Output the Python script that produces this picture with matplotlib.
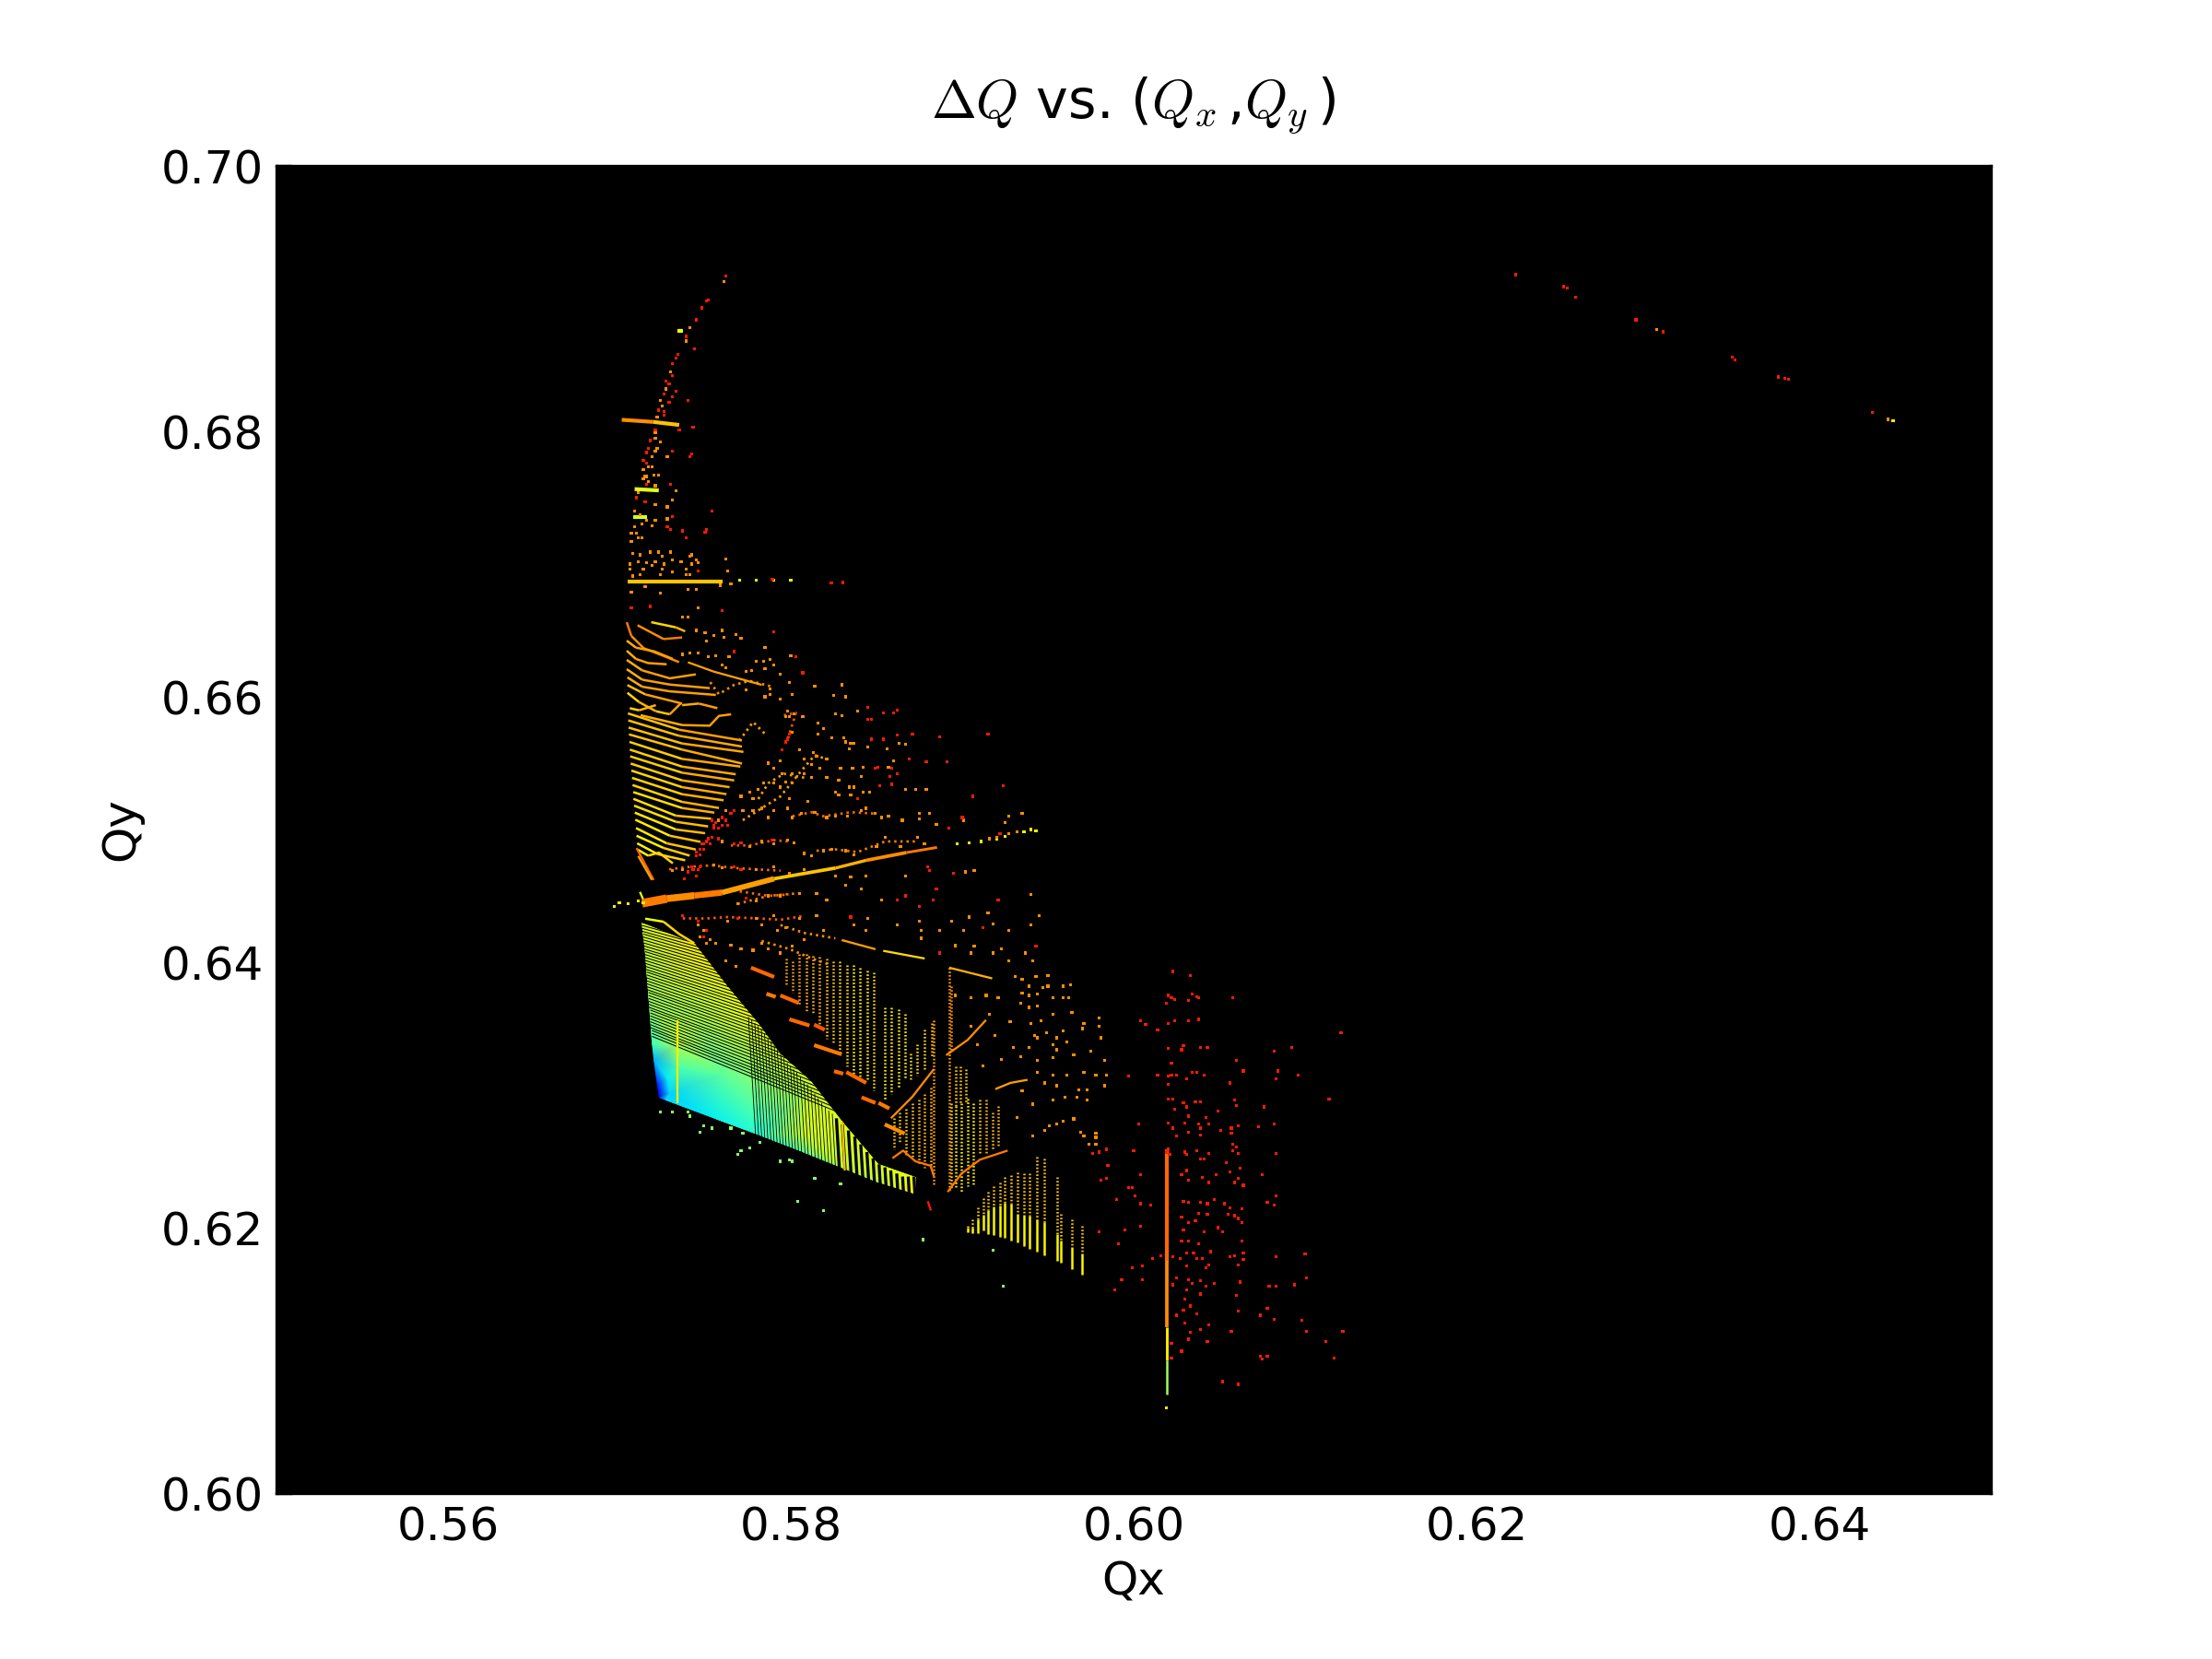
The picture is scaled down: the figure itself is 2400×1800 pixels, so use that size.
import numpy as np
import matplotlib
matplotlib.use("Agg")
import matplotlib.pyplot as plt
from matplotlib.collections import LineCollection
from matplotlib.patches import Polygon

plt.rcParams["mathtext.fontset"] = "cm"
plt.rcParams["lines.scale_dashes"] = False

# colour field of the dense lower fan
FIELD_X = [.5713, .5744, .5715, .5763, .5717, .5747, .5719, .5734, .5781, .5720, .5722, .5723, .5727, .5756,
           .5760, .5794, .5812, .5783, .5805, .5808, .5830, .5830, .5851, .5851, .5873, .5873,
           .5728, .5729, .5735]
FIELD_Y = [.6430, .6414, .6407, .6382, .6373, .6361, .6338, .6338, .6354, .6326, .6306, .6298, .6296, .6282,
           .6315, .6331, .6310, .6269, .6258, .6271, .6280, .6245, .6248, .6234, .6238, .6225,
           .6312, .6301, .6320]
FIELD_C = [.62, .66, .58, .64, .54, .56, .42, .56, .64, .30, .12, .08, .34, .36,
           .46, .60, .60, .40, .46, .60, .62, .58, .62, .58, .64, .66,
           .36, .33, .44]
FIELD_EDGE = [0, 1, 3, 8, 15, 16, 20, 22, 24, 25, 23, 21, 18, 17, 13, 12, 11, 10, 9, 6, 4, 2]

# black gaps between the fan rows
ROW_X0 = [.5713, .5713, .5713, .5713, .5714, .5714, .5714, .5714, .5714, .5714, .5715, .5715, .5715, .5715,
          .5715, .5715, .5715, .5716, .5716, .5716, .5716, .5716, .5716, .5716, .5717, .5717, .5717, .5717,
          .5717, .5717, .5718, .5718, .5718, .5718, .5718, .5718, .5718, .5719, .5719, .5719]
ROW_Y0 = [.64300, .64278, .64256, .64234, .64212, .64190, .64168, .64146, .64124, .64102, .64080, .64058,
          .64036, .64014, .63992, .63970, .63948, .63926, .63904, .63882, .63860, .63838, .63816, .63794,
          .63772, .63750, .63728, .63706, .63684, .63662, .63640, .63618, .63596, .63574, .63552, .63530,
          .63508, .63486, .63464, .63442]
ROW_X1 = [.5750, .5752, .5755, .5757, .5760, .5762, .5764, .5767, .5769, .5772, .5774, .5776, .5779, .5781,
          .5784, .5786, .5788, .5791, .5793, .5796, .5798, .5800, .5803, .5805, .5808, .5810, .5812, .5815,
          .5817, .5820, .5822, .5824, .5827, .5829, .5832, .5834, .5836, .5839, .5841, .5844]
ROW_Y1 = [.64170, .64140, .64106, .64076, .64041, .64010, .63979, .63944, .63912, .63877, .63845, .63813,
          .63777, .63744, .63707, .63674, .63642, .63604, .63571, .63533, .63499, .63465, .63427, .63393,
          .63353, .63318, .63284, .63244, .63209, .63169, .63133, .63097, .63057, .63021, .62979, .62942,
          .62906, .62864, .62827, .62784]

# black gaps between the fan columns
COL_X0 = [.58727, .58693, .58659, .58625, .58591, .58557, .58523, .58489, .58455, .58421, .58387, .58352,
          .58318, .58284, .58261, .58241, .58222, .58202, .58182, .58163, .58143, .58123, .58103, .58084,
          .58064, .58046, .58028, .58010, .57992, .57974, .57956, .57939, .57921, .57903, .57885, .57867,
          .57849, .57831, .57813, .57795]
COL_Y0 = [.62195, .62213, .62232, .62248, .62267, .62285, .62304, .62320, .62338, .62357, .62375, .62394,
          .62410, .62429, .62442, .62452, .62463, .62473, .62484, .62493, .62505, .62514, .62526, .62535,
          .62547, .62556, .62565, .62574, .62584, .62593, .62602, .62611, .62621, .62632, .62642, .62651,
          .62660, .62669, .62679, .62688]
COL_X1 = [.58718, .58685, .58652, .58618, .58583, .58549, .58515, .58480, .58444, .58408, .58373, .58336,
          .58301, .58266, .58242, .58221, .58201, .58180, .58159, .58139, .58118, .58097, .58076, .58056,
          .58035, .58016, .57998, .57979, .57960, .57941, .57921, .57903, .57885, .57866, .57847, .57828,
          .57809, .57790, .57772, .57753]
COL_Y1 = [.62385, .62385, .62385, .62408, .62431, .62454, .62477, .62523, .62570, .62628, .62686, .62732,
          .62778, .62824, .62859, .62882, .62905, .62940, .62975, .63010, .63044, .63079, .63102, .63137,
          .63172, .63195, .63218, .63241, .63276, .63311, .63345, .63380, .63403, .63426, .63461, .63496,
          .63519, .63542, .63565, .63588]

# right hand columns: dotted from top to mid, solid from mid to bottom
RIGHT_X = [.59032, .59059, .59094, .59121, .59152, .59184, .59220, .59250, .59283, .59323, .59360, .59391,
           .59435, .59477, .59552, .59573, .59638, .59699]
RIGHT_TOP = [.62014, .62060, .62153, .62222, .62269, .62315, .62338, .62385, .62396, .62419, .62407, .62407,
             .62534, .62523, .62384, .62106, .62060, .62013]
RIGHT_MID = [.62000, .62000, .62060, .62100, .62130, .62160, .62170, .62190, .62180, .62106, .62100, .62090,
             .62060, .62040, .61950, .61900, .61851, .61805]
RIGHT_BOTTOM = [.61968, .61960, .61956, .61979, .61950, .61945, .61933, .61922, .61903, .61886, .61863,
                .61840, .61817, .61793, .61747, .61736, .61689, .61648]

# dotted columns of the middle grid
DOT_X = [.57974, .58010, .58050, .58089, .58128, .58168, .58207, .58247, .58286, .58326, .58365, .58404, .58444,
         .58483, .58548, .58584, .58628, .58664, .58700, .58736, .58781, .58825, .58602, .58637, .58673, .58709,
         .58745, .58781, .58816, .58933, .58960, .58987, .59023, .58933, .58960, .58996, .59032, .59067, .59103,
         .59139, .59175, .59211, .58835, .58924]
DOT_TOP = [.64028, .64005, .64063, .64063, .64051, .64040, .64028, .64005, .64005, .63982, .63982, .63959, .63936,
           .63924, .63658, .63658, .63646, .63612, .63311, .63380, .63496, .63542, .62824, .62871, .62894, .62940,
           .62963, .63010, .63056, .63820, .63218, .63218, .63195, .62940, .62917, .62940, .62975, .62940, .62963,
           .62963, .62871, .62917, .63565, .63959]
DOT_BOTTOM = [.63820, .63774, .63681, .63635, .63612, .63519, .63426, .63380, .63311, .63218, .63149, .63125, .63102,
              .63033, .62963, .63010, .63056, .63125, .63102, .63149, .63195, .63287, .62593, .62639, .62547, .62523,
              .62477, .62454, .62454, .63334, .62917, .62940, .62940, .62292, .62292, .62269, .62315, .62315, .62547,
              .62547, .62593, .62616, .62315, .62269]
DOT_C = [.74, .74, .74, .72, .72, .72, .70, .70, .68, .68, .66, .66, .66,
         .68, .66, .66, .66, .66, .68, .68, .68, .70, .70, .70, .70, .70,
         .72, .72, .72, .76, .70, .70, .70, .68, .66, .66, .66, .66, .70,
         .72, .72, .72, .74, .74]

# rows of the upper fan, one list of vertices per row
UPPER_X = [[.57186, .57330, .57384], [.57106, .57258, .57366], [.57043, .57070, .57142, .57258, .57348],
           [.57043, .57097, .57204, .57312], [.57043, .57097, .57168, .57276], [.57043, .57133, .57294, .57446],
           [.57043, .57133, .57294, .57527], [.57047, .57133, .57294, .57563], [.57047, .57151, .57294, .57366],
           [.57366, .57464, .57572], [.57047, .57115, .57213], [.57061, .57115, .57213], [.57213, .57294, .57357],
           [.57124, .57366, .57527, .57581, .57652], [.57050, .57348, .57715], [.57052, .57348, .57715],
           [.57054, .57366, .57724], [.57056, .57366, .57715], [.57059, .57366, .57706], [.57061, .57366, .57679],
           [.57063, .57366, .57670], [.57066, .57366, .57643], [.57070, .57366, .57625], [.57074, .57366, .57608],
           [.57077, .57366, .57581], [.57081, .57366, .57554], [.57082, .57330, .57536], [.57086, .57330, .57518],
           [.57090, .57330, .57500], [.57093, .57294, .57473], [.57097, .57276, .57446], [.57100, .57258, .57410],
           [.57104, .57222, .57384], [.57106, .57168, .57231, .57312], [.57151, .57258, .57348, .57437]]
UPPER_Y = [[.66562, .66523, .66493], [.66539, .66435, .66447], [.66562, .66458, .66366, .66308, .66261],
           [.66423, .66370, .66342, .66285], [.66347, .66285, .66254, .66245], [.66278, .66199, .66139, .66169],
           [.66208, .66129, .66092, .66065], [.66146, .66076, .66041, .66014], [.66088, .66018, .65972, .65949],
           [.65937, .65949, .65914], [.66030, .65960, .65891], [.65914, .65898, .65937], [.65891, .65868, .65949],
           [.65861, .65787, .65782, .65856, .65868], [.65875, .65752, .65671], [.65822, .65706, .65625],
           [.65768, .65648, .65585], [.65717, .65602, .65497], [.65660, .65532, .65474], [.65602, .65474, .65416],
           [.65551, .65428, .65370], [.65497, .65370, .65319], [.65444, .65319, .65266], [.65389, .65266, .65220],
           [.65335, .65208, .65162], [.65282, .65162, .65127], [.65231, .65104, .65081], [.65180, .65058, .65023],
           [.65127, .65000, .64972], [.65074, .64953, .64907], [.65011, .64896, .64849], [.64953, .64861, .64803],
           [.64896, .64815, .64768], [.64849, .64803, .64826, .64745], [.64328, .64305, .64213, .64143]]
UPPER_C0 = [.68, .76, .78, .72, .72, .72, .72, .72, .71, .73, .68, .68, .70, .72, .70, .70, .70, .70, .69, .69,
            .69, .69, .68, .68, .68, .67, .67, .67, .66, .66, .66, .65, .65, .64, .64]
UPPER_C1 = [.72, .78, .76, .74, .74, .74, .74, .74, .74, .74, .72, .72, .74, .74, .74, .73, .73, .73, .73, .73,
            .73, .73, .73, .72, .72, .72, .71, .71, .71, .70, .70, .69, .68, .68, .68]

# the bright streak through (0.58, 0.646)
STREAK_X = [.57133, .57276, .57437, .57599, .57903, .58262, .58441, .58674, .58853]
STREAK_Y = [.64444, .64479, .64502, .64525, .64629, .64710, .64768, .64826, .64865]
STREAK_C = [.78, .76, .78, .74, .70, .72, .76, .78]

# short thick pieces: x0, y0, x1, y1, value
THICK_X0 = [.57768, .57858, .57939, .57992, .58136, .58136, .58252, .58324, .58413, .58512, .58548,
            .57014, .57198, .57340, .57089, .57080, .57050]
THICK_Y0 = [.63959, .63762, .63750, .63570, .63530, .63375, .63179, .63172, .62982, .62940, .62778,
            .68087, .68071, .68757, .67565, .67353, .66868]
THICK_X1 = [.57903, .57912, .58046, .58109, .58198, .58297, .58306, .58440, .58494, .58575, .58664,
            .57198, .57349, .57370, .57230, .57160, .57600]
THICK_Y1 = [.63889, .63739, .63693, .63523, .63491, .63306, .63160, .63091, .62940, .62898, .62709,
            .68071, .68048, .68757, .67555, .67353, .66868]
THICK_C = [.80, .78, .80, .80, .82, .78, .80, .80, .80, .78, .76, .76, .70, .64, .62, .60, .70]

# thin chains across the grid
CHAIN_X = [[.58584, .58709, .58835], [.58915, .58996, .59103, .59265], [.59193, .59282, .59381],
           [.58906, .59032, .59139], [.58593, .58655, .58727, .58816, .58835], [.58799, .58817],
           [.57338, .57338], [.58300, .58315], [.57100, .57200], [.57110, .57190], [.57120, .57150],
           [.58297, .58494], [.58539, .58781], [.58924, .59175], [.5740, .5755, .5769, .5783]]
CHAIN_Y = [[.62824, .62986, .63195], [.62269, .62408, .62512, .62581], [.63044, .63091, .63114],
           [.63299, .63415, .63565], [.62523, .62581, .62500, .62466, .62385], [.62199, .62130],
           [.63565, .62940], [.62800, .62431], [.64860, .64620], [.64800, .64620], [.64530, .64440],
           [.64167, .64098], [.64086, .64028], [.63959, .63878], [.6626, .6619, .6614, .6609]]
CHAIN_C = [.76, .78, .74, .76, .78, .88, .66, .70, .80, .74, .62, .74, .68, .72, .74]

# the vertical line at Qx = 0.6019, by stretches
LINE_X = [.60193, .60193, .60193, .60193]
LINE_TOP = [.62592, .61750, .61250, .61000]
LINE_BOTTOM = [.61750, .61250, .61000, .60740]
LINE_C = [.80, .76, .66, .54]

# dotted chains of points between the two fans
BAND_X = [[.5729, .5742, .5754, .5767, .5780, .5794], [.5749, .5767, .5787, .5799], [.5769, .5787, .5805],
          [.5737, .5751, .5763, .5781, .5794, .5808], [.5765, .5776, .5790, .5799],
          [.5801, .5812, .5819, .5835, .5849], [.5815, .5826, .5839, .5855, .5873], [.5794, .5808, .5826],
          [.5783, .5799, .5812, .5823], [.5772, .5783, .5794, .5806, .5814, .5821], [.5781, .5787, .5796, .5808],
          [.5753, .5758, .5767, .5776, .5788], [.5770, .5778, .5785], [.5796, .5803, .5798]]
BAND_Y = [[.6470, .6472, .6473, .6471, .6470, .6469], [.6450, .6454, .6450, .6451], [.6444, .6450, .6452],
          [.6433, .6433, .6434, .6433, .6432, .6435], [.6488, .6488, .6492, .6491],
          [.6510, .6513, .6510, .6513, .6512], [.6484, .6485, .6483, .6491, .6491], [.6428, .6422, .6418],
          [.6416, .6410, .6403, .6398], [.6507, .6516, .6525, .6544, .6556, .6553], [.6523, .6535, .6542, .6539],
          [.6611, .6602, .6609, .6612, .6608], [.6567, .6581, .6572], [.6586, .6588, .6567]]
BAND_C = [.80, .80, .78, .82, .82, .80, .78, .76, .76, .74, .74, .76, .74, .82]

RED_X = [.5762, .5752, .5751, .5748, .5745, .5739, .5739, .5744, .5734, .5733, .5731, .5731, .5727, .5729, .5733, .5731,
         .5726, .5740, .5729, .5723, .5726, .5726, .5743, .5735, .5721, .5718, .5717, .5716, .5731, .5742, .5741, .5714,
         .5716, .5716, .5730, .5710, .5715, .5754, .5731, .5728, .5730, .5751, .5750, .5737, .5739, .5746, .57892, .58237,
         .58305, .5760, .5718, .5707,
         .5790, .5767, .5803, .5807, .5845, .5854, .5862, .5860, .5845, .5847, .5799, .5798, .5797, .5871, .5862, .5887,
         .5915, .5847, .5854, .5795, .5849, .5851, .5869, .5879, .5891, .5859, .5858, .5862, .5924, .5906, .5859, .5839,
         .5852, .5755, .5760, .5900, .5892, .5922, .5756, .5758, .5755, .5762, .5765, .5767, .5760, .5754, .5755, .5763,
         .5745, .5748, .5751, .5749, .5752, .5754, .5758, .5745, .5747, .5753, .5740, .5743, .5745, .5747, .5738,
         .5751, .5749, .5747, .5754, .5767, .5771, .5789, .5742, .5746, .5767, .5771, .5880, .5895, .5881, .5774, .5862,
         .5867, .5875, .5885, .5883, .5921, .5737, .5746, .5749, .5751, .5769, .5835, .5887, .5912, .5943,
         .6223, .6251, .6253, .6258, .6293, .6309, .6349, .6351, .6351, .6376, .6380, .6382, .6431,
         .6023, .6033, .6020, .6022, .6024, .6037, .6038, .6058, .6034, .6032, .6019, .6004, .6007, .6020, .6024, .6032,
         .6038, .6014, .6121, .6029, .6028, .6020, .6039, .6043, .6092, .6082, .6022, .6060, .6064, .6084, .6096, .6083,
         .6020, .6022, .6025, .6034, .6037, .6041, .6014, .5997, .6031, .6056, .6020, .6114, .6059, .6060, .6076, .6039,
         .6036, .6020, .6023, .6029, .6031, .6024, .6049, .6032, .6003, .6020, .6023, .6030, .6038, .6042, .6044, .6039,
         .6057, .6061, .6073, .6082, .6051, .6057, .6039, .6032, .6025, .6058, .6060, .6061, .6083, .6058, .6020, .6019,
         .6021, .6030, .6031, .6037, .6039, .6041, .6044, .6054, .6000, .5984, .5976, .5980, .5985, .6062, .6056, .6075,
         .6048, .6031, .6028, .6032, .6040, .6044, .6061, .6059, .6064, .6004, .5981, .5984, .5997, .5999, .6001, .6083,
         .6078, .6082, .6004, .6010, .5990, .6029, .6032, .6039, .6043, .6047, .6053, .6056, .6063, .6055, .6059, .6061,
         .6063, .6028, .6038, .6043, .6032, .6036, .6049, .6052, .6004, .5995, .5980, .5991, .6063, .6029, .6041, .6028,
         .6032, .6038, .6011, .6016, .6056, .6059, .6064, .6083, .6100, .6061, .6064, .6045, .6040, .6035, .6023, .6027,
         .6031, .6037, .6044, .6042, .6031, .6005, .5999, .6101, .6079, .6083, .6094, .6062, .6047, .6042, .6039, .6034,
         .6032, .6025, .6023, .5993, .6005, .5989, .6039, .6031, .6060, .6030, .6061, .6078, .6074, .6082, .6098, .6033,
         .6029, .6025, .6037, .6030, .6044, .6101, .6122, .6057, .6039, .6033, .6032, .6043, .6112, .6022, .6028, .6022,
         .6117, .6074, .6075, .6078, .6052, .6061]
RED_Y = [.6917, .6899, .6898, .6893, .6884, .6872, .6871, .6862, .6858, .6855, .6851, .6842, .6838, .6836, .6830, .6826,
         .6828, .6823, .6822, .6816, .6815, .6812, .6803, .6801, .6801, .6793, .6787, .6784, .6785, .6783, .6781, .6778,
         .6776, .6760, .6760, .6750, .6747, .6740, .6736, .6728, .6726, .6726, .6724, .6725, .6720, .6695, .66884, .66857,
         .66861, .6665, .6668, .6667,
         .6649, .6634, .6630, .6618, .6592, .6588, .6590, .6588, .6583, .6583, .6572, .6568, .6566, .6572, .6571, .6570,
         .6572, .6568, .6568, .6560, .6546, .6547, .6553, .6551, .6551, .6546, .6540, .6542, .6533, .6525, .6534, .6523,
         .6533, .6502, .6503, .6509, .6501, .6497, .6505, .6501, .6501, .6507, .6512, .6514, .6509, .6507, .6503, .6503,
         .6483, .6489, .6491, .6485, .6493, .6494, .6493, .6480, .6481, .6489, .6468, .6470, .6465, .6472, .6463,
         .6491, .6489, .6485, .6494, .6489, .6490, .6492, .6472, .6470, .6472, .6470, .6472, .6467, .6469, .6448, .6447,
         .6450, .6442, .6455, .6447, .6447, .6435, .6431, .6419, .6424, .6433, .6434, .6407, .6426, .6412,
         .6918, .6909, .6908, .6901, .6884, .6875, .6856, .6854, .6854, .6841, .6840, .6839, .6814,
         .6393, .6390, .6375, .6373, .6372, .6374, .6373, .6373, .6376, .6371, .6369, .6356, .6353, .6354, .6356, .6356,
         .6357, .6349, .6347, .6337, .6334, .6335, .6336, .6336, .6336, .6333, .6324, .6326, .6318, .6318, .6315, .6312,
         .6314, .6315, .6315, .6317, .6317, .6315, .6315, .6314, .6312, .6309, .6308, .6297, .6296, .6292, .6291, .6295,
         .6295, .6297, .6297, .6294, .6291, .6289, .6288, .6284, .6278, .6279, .6275, .6279, .6278, .6283, .6278, .6275,
         .6275, .6277, .6276, .6278, .6273, .6271, .6270, .6272, .6269, .6263, .6261, .6256, .6256, .6258, .6259, .6257,
         .6255, .6257, .6255, .6258, .6252, .6252, .6256, .6249, .6258, .6259, .6256, .6257, .6247, .6245, .6242, .6240,
         .6240, .6243, .6240, .6236, .6238, .6234, .6237, .6234, .6232, .6240, .6236, .6237, .6230, .6230, .6224, .6224,
         .6219, .6217, .6218, .6217, .6221, .6220, .6219, .6219, .6218, .6221, .6218, .6215, .6214, .6210, .6209, .6207,
         .6204, .6208, .6211, .6210, .6204, .6205, .6200, .6197, .6201, .6198, .6197, .6188, .6190, .6198, .6197, .6190,
         .6190, .6188, .6177, .6179, .6178, .6179, .6181, .6178, .6180, .6172, .6176, .6182, .6177, .6181, .6178, .6177,
         .6181, .6177, .6172, .6170, .6171, .6171, .6170, .6162, .6156, .6156, .6157, .6159, .6158, .6156, .6160, .6158,
         .6161, .6162, .6157, .6161, .6161, .6153, .6150, .6153, .6149, .6146, .6137, .6139, .6134, .6131, .6130, .6141,
         .6138, .6134, .6135, .6128, .6127, .6122, .6122, .6122, .6123, .6121, .6116, .6114, .6114, .6113, .6107, .6102,
         .6102, .6103, .6101, .6103, .6084, .6082]

ORANGE_X = [.5761, .5741, .5739, .5730, .5727, .5724, .5725, .5722, .5721, .5721, .5724, .5722, .5721, .5728, .5719, .5717,
            .5719, .5714, .5720, .5723, .5715, .5716, .5714, .5717, .5721, .5733, .5711, .5731, .5721, .5728, .5709, .5712,
            .5728, .5721, .5716, .5709, .5713, .5719, .5707, .5710, .5711, .5713, .5707,
            .5708, .5712, .5718, .5723, .5730, .5742, .5762, .5725, .5741, .5706, .5711, .5716, .5721, .5731, .5736, .5745,
            .5746, .5726, .5742, .5706, .5714, .5719, .5725, .5739, .5763, .5724, .5731, .5739, .5741, .5708, .5712, .5715,
            .5740, .5745, .5759, .5765, .5724, .5707, .5746, .5740, .5737,
            .5745, .5750, .5755, .5760, .5761, .5751, .5771, .5768, .5746, .5741, .5737, .5752, .5756, .5764, .5785, .5800,
            .5780, .5784, .5788, .5790, .5760, .5762, .5774, .5777, .5785, .5794, .5799, .5814, .5830, .5788, .5774, .5788,
            .5785, .5794, .5801, .5825, .5832, .5798, .5802, .5799, .5797, .5807, .5816, .5826, .5830, .5839,
            .5801, .5816, .5819, .5824, .5831, .5832, .5835, .5837, .5834, .5845, .5856, .5863, .5867, .5805, .5813, .5815,
            .5808, .5821, .5794, .5787, .5790, .5795, .5801, .5812, .5817, .5829, .5836, .5842, .5857, .5860, .5841, .5828,
            .5821, .5812, .5808, .5801, .5797, .5794, .5790, .5784, .5781, .5778, .5776, .5771, .5867, .5873, .5879, .5846,
            .5842, .5837, .5834, .5828, .5826, .5835, .5810, .5799, .5798, .5790, .5787, .5783, .5778, .5772, .5767, .5762,
            .5758, .5844, .5841, .5833, .5826, .5821, .5814, .5806, .5801, .5849, .5853, .5857, .5865, .5875, .5881, .5875,
            .5901, .5885, .5927, .5935, .5925, .5927, .5932, .5916, .5920, .5760, .5776, .5783, .5790, .5798, .5802, .5808,
            .5812, .5819, .5824, .5832, .5837, .5850, .5855, .5864, .5874, .5878, .5731, .5737, .5755, .5760, .5780, .5790,
            .5799, .5808, .5902, .5907, .5867, .5844, .5835, .5826, .5769, .5780, .5787, .5794, .5805, .5815, .5821, .5832,
            .5841, .5853, .5940, .5763, .5780, .5790, .5805, .5815, .5845, .5862, .5875, .5894, .5904, .5915, .5918, .5945,
            .5940, .5876, .5901, .5912, .5927, .5937, .5923, .5907, .5896, .5887, .5876, .5819, .5844, .5837,
            .5931, .5935, .5943, .5950, .5939, .5947, .5959, .5963, .5935, .5944, .5953, .5962, .5934, .5939, .5944, .5953,
            .5964, .5940, .5946, .5971, .5980, .5980, .5970, .5959, .5949, .5942, .5955, .5981, .5961, .5939, .5955, .5975,
            .5965, .5953, .5944, .5983, .5971, .5978, .5984, .5953, .5961, .5948, .5955, .5968, .5973, .5983, .5935, .5960,
            .5967, .5973, .5941, .5953, .5951, .5955, .5965, .5969, .5971, .5978, .5978, .5974, .5978,
            .5747, .5751, .5753, .5749, .5746, .5756, .5765, .5771, .5778, .5783, .5787, .5762, .5768, .5794, .5801, .5808,
            .5783, .5792, .5797, .5896, .5905, .5918, .5927, .5941, .5896, .5905, .5914, .5921, .5939, .5950, .5959,
            .5905, .5916, .5928, .5919, .5930, .5934, .5923, .5912, .5909, .5944, .5953, .5944, .5953, .5948, .5941, .5932,
            .5959, .6305, .6440, .6440]
ORANGE_Y = [.6913, .6878, .6868, .6845, .6832, .6823, .6819, .6811, .6799, .6795, .6792, .6787, .6785, .6781, .6781, .6773,
            .6773, .6771, .6767, .6767, .6766, .6766, .6764, .6762, .6759, .6755, .6754, .6748, .6745, .6743, .6740, .6737,
            .6734, .6733, .6733, .6728, .6730, .6729, .6723, .6723, .6720, .6720, .6717,
            .6708, .6707, .6709, .6709, .6709, .6707, .6704, .6706, .6706, .6700, .6702, .6701, .6702, .6703, .6702, .6703,
            .6701, .6700, .6700, .6696, .6696, .6699, .6696, .6696, .6695, .6692, .6694, .6692, .6692, .6691, .6692, .6683,
            .6681, .6681, .6684, .6685, .6678, .6679, .6667, .6660, .6660,
            .6650, .6648, .6646, .6650, .6645, .6642, .6644, .6647, .6633, .6633, .6632, .6630, .6631, .6630, .6637, .6631,
            .6627, .6627, .6628, .6624, .6624, .6622, .6619, .6620, .6621, .6617, .6611, .6608, .6609, .6606, .6605, .6602,
            .6600, .6598, .6602, .6601, .6600, .6589, .6587, .6585, .6585, .6585, .6580, .6587, .6586, .6589,
            .6573, .6572, .6576, .6569, .6569, .6566, .6565, .6565, .6561, .6562, .6561, .6565, .6564, .6560, .6558, .6555,
            .6553, .6553, .6552, .6550, .6546, .6542, .6542, .6549, .6546, .6546, .6546, .6547, .6547, .6552, .6540, .6537,
            .6539, .6539, .6542, .6535, .6536, .6532, .6535, .6535, .6530, .6523, .6528, .6525, .6530, .6530, .6530, .6528,
            .6528, .6532, .6532, .6526, .6528, .6526, .6521, .6523, .6516, .6514, .6509, .6516, .6514, .6514, .6514, .6514,
            .6507, .6516, .6514, .6510, .6510, .6509, .6513, .6512, .6509, .6512, .6509, .6510, .6507, .6512, .6512, .6508,
            .6507, .6504, .6510, .6512, .6505, .6497, .6498, .6493, .6494, .6491, .6487, .6491, .6489, .6492, .6490, .6482,
            .6480, .6484, .6485, .6484, .6481, .6487, .6494, .6487, .6494, .6489, .6469, .6470, .6473, .6471, .6470, .6472,
            .6467, .6470, .6468, .6469, .6465, .6465, .6464, .6465, .6444, .6446, .6450, .6450, .6452, .6452, .6447, .6458,
            .6455, .6447, .6451, .6431, .6433, .6435, .6433, .6435, .6433, .6428, .6431, .6431, .6434, .6437, .6429, .6435,
            .6428, .6424, .6424, .6426, .6424, .6407, .6410, .6412, .6413, .6424, .6418, .6424, .6424, .6428,
            .6389, .6387, .6389, .6390, .6382, .6381, .6382, .6383, .6377, .6376, .6373, .6373, .6369, .6366, .6367, .6361,
            .6362, .6354, .6356, .6354, .6358, .6352, .6350, .6348, .6347, .6345, .6343, .6343, .6340, .6336, .6334, .6333,
            .6330, .6328, .6326, .6326, .6317, .6315, .6315, .6315, .6315, .6309, .6307, .6304, .6304, .6307, .6303, .6298,
            .6298, .6296, .6293, .6296, .6277, .6278, .6282, .6272, .6269, .6271, .6268, .6263, .6263,
            .6419, .6414, .6417, .6424, .6428, .6414, .6413, .6410, .6409, .6414, .6410, .6401, .6397, .6407, .6412, .6417,
            .6428, .6424, .6426, .6412, .6407, .6407, .6401, .6401, .6375, .6373, .6375, .6373, .6375, .6382, .6373,
            .6352, .6361, .6355, .6345, .6336, .6329, .6327, .6322, .6338, .6343, .6338, .6317, .6315, .6273, .6269, .6283,
            .6280, .6877, .6809, .6809]

# points past the streak tip and left of the fan
YELLOW_X = [.5897, .5904, .5911, .5920, .5925, .5936, .5940, .5943, .6443, .5770, .5780, .5790, .5800,
            .5697, .5700, .5705, .5711, .5714, .6019]
YELLOW_Y = [.6489, .6490, .6491, .6493, .6495, .6498, .6500, .6499, .6808, .6688, .6688, .6688, .6688,
            .6442, .6445, .6444, .6446, .6445, .6064]

STRAY_X = [.5724, .5731, .5740, .5741, .5749, .5747, .5754, .5765, .5772, .5782, .5769, .5771, .5776, .5794, .5799,
           .5801, .5814, .5829, .5804, .5819, .5877, .5918, .5924]
STRAY_Y = [.6287, .6287, .6287, .6284, .6277, .6272, .6275, .6275, .6271, .6264, .6255, .6258, .6260, .6250, .6251,
           .6250, .6237, .6233, .6220, .6213, .6191, .6183, .6156]

X_TICKS = [0.56, 0.58, 0.60, 0.62, 0.64]
Y_TICKS = [0.60, 0.62, 0.64, 0.66, 0.68, 0.70]


def add_lines(ax, xs, ys, values, width, zorder=3, style="solid"):
    segments = [np.column_stack([x, y]) for x, y in zip(xs, ys)]
    lines = LineCollection(segments, cmap="jet", linewidths=width, linestyles=style, zorder=zorder)
    lines.set_array(np.asarray(values))
    lines.set_clim(0, 1)
    ax.add_collection(lines)


def add_gaps(ax, x0, y0, x1, y1, width):
    segments = [[(a, b), (c, d)] for a, b, c, d in zip(x0, y0, x1, y1)]
    ax.add_collection(LineCollection(segments, colors="k", linewidths=width, zorder=2))


def draw_fan(ax):
    field = ax.tripcolor(FIELD_X, FIELD_Y, FIELD_C, shading="gouraud", cmap="jet", vmin=0, vmax=1, zorder=1)
    edge = [(FIELD_X[i], FIELD_Y[i]) for i in FIELD_EDGE]
    field.set_clip_path(Polygon(edge, transform=ax.transData))
    add_gaps(ax, ROW_X0, ROW_Y0, ROW_X1, ROW_Y1, 0.25)
    add_gaps(ax, COL_X0[:14], COL_Y0[:14], COL_X1[:14], COL_Y1[:14], 0.8)
    add_gaps(ax, COL_X0[14:], COL_Y0[14:], COL_X1[14:], COL_Y1[14:], 0.2)


def draw_structure(ax):
    dotted = (0, (0.4, 0.5))
    add_lines(ax, [[x, x] for x in DOT_X], list(zip(DOT_TOP, DOT_BOTTOM)), DOT_C, 0.6, style=dotted)
    add_lines(ax, [[x, x] for x in RIGHT_X], list(zip(RIGHT_TOP, RIGHT_MID)), [.70] * len(RIGHT_X), 0.6, style=dotted)
    add_lines(ax, [[x, x] for x in RIGHT_X], list(zip(RIGHT_MID, RIGHT_BOTTOM)), [.65] * len(RIGHT_X), 0.6)
    add_lines(ax, BAND_X, BAND_Y, BAND_C, 0.65, style=(0, (0.6, 1.0)))

    # upper rows: first stretch in one value, the rest in the other
    for xs, ys, c0, c1 in zip(UPPER_X, UPPER_Y, UPPER_C0, UPPER_C1):
        add_lines(ax, [xs[:2]], [ys[:2]], [c0], 0.6)
        add_lines(ax, [xs[1:]], [ys[1:]], [c1], 0.6)

    add_lines(ax, CHAIN_X, CHAIN_Y, CHAIN_C, 0.55)
    add_lines(ax, [[x, x] for x in LINE_X], list(zip(LINE_TOP, LINE_BOTTOM)), LINE_C, [1.0, 0.9, 0.7, 0.6])
    add_lines(ax, list(zip(THICK_X0, THICK_X1)), list(zip(THICK_Y0, THICK_Y1)), THICK_C, 1.0)
    add_lines(ax, list(zip(STREAK_X[:-1], STREAK_X[1:])), list(zip(STREAK_Y[:-1], STREAK_Y[1:])), STREAK_C,
              [2.2, 1.8, 1.6, 1.4, 0.9, 0.8, 0.9, 0.7])


def draw_points(ax):
    for xs, ys, value in ((STRAY_X, STRAY_Y, .52), (YELLOW_X, YELLOW_Y, .66),
                          (ORANGE_X, ORANGE_Y, .76), (RED_X, RED_Y, .88)):
        ax.scatter(xs, ys, c=[value] * len(xs), cmap="jet", vmin=0, vmax=1, s=0.6, marker="s", linewidths=0, zorder=4)


def plot_chart(path):
    fig, ax = plt.subplots(figsize=(8, 6), dpi=300)
    fig.subplots_adjust(left=0.125, right=0.9, top=0.9, bottom=0.1)
    ax.set_facecolor("k")
    draw_fan(ax)
    draw_structure(ax)
    draw_points(ax)

    ax.set_xlim(0.55, 0.65)
    ax.set_ylim(0.60, 0.70)
    ax.set_xticks(X_TICKS)
    ax.set_yticks(Y_TICKS)
    ax.tick_params(direction="in", labelsize=12, length=4, color="k", pad=3.3)
    ax.set_xlabel("Qx", fontsize=12, labelpad=2.5)
    ax.set_ylabel("Qy", fontsize=12, labelpad=4.7)
    ax.set_title(r"$\Delta Q$ vs. ($Q_x\,$,$Q_y\,$)", fontsize=14.1, y=1.019)

    fig.savefig(path, dpi=300)


if __name__ == "__main__":
    plot_chart("out.png")
